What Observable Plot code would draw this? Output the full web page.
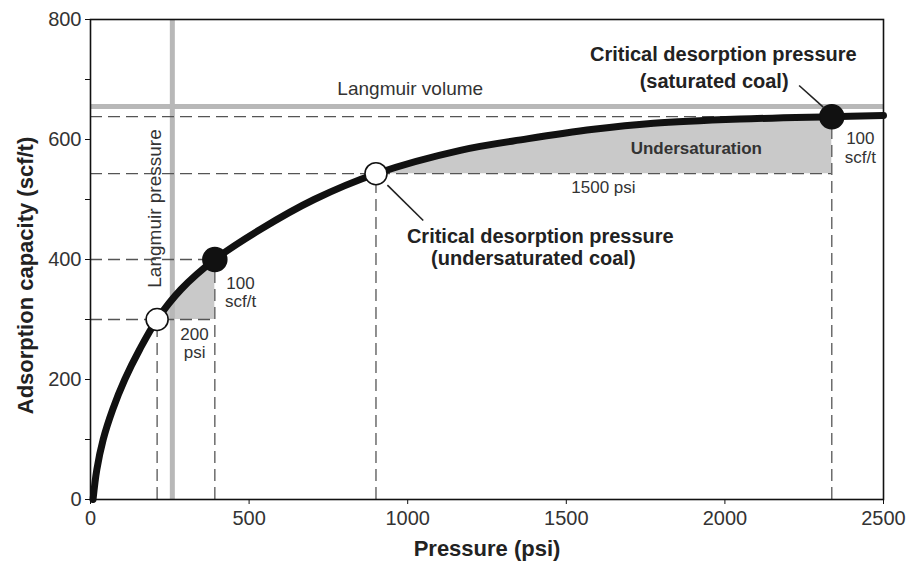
<!DOCTYPE html>
<html><head><meta charset="utf-8">
<script src="https://cdn.jsdelivr.net/npm/d3@7"></script>
<script src="https://cdn.jsdelivr.net/npm/@observablehq/plot@0.6"></script>
<style>
body{margin:0;background:#fff;}
#chart svg{display:block;}
</style>
</head><body><div id="chart"></div>
<script>
// Isotherm
const curvePressure = [8, 20, 40, 70, 108, 155, 210, 285, 392, 535, 705, 900, 1166, 1376, 1586, 1775, 2048, 2337, 2500];
const curveCapacity = [0, 50, 100, 150, 200, 250, 300, 350, 400, 450, 500, 543, 582, 601, 617, 627, 634, 638, 640];

const langmuirVolume = 655;
const langmuirPressure = 258;

const openPressure = [210, 900];
const openCapacity = [300, 543];
const filledPressure = [392, 2337];
const filledCapacity = [400, 638];

// dashed guides
const guideY = [300, 400, 543, 638];
const guideYEnd = [392, 392, 2337, 2337];
const guideX = [210, 392, 900, 2337];
const guideXEnd = [300, 400, 543, 638];

const xTicks = [0, 500, 1000, 1500, 2000, 2500];
const xTickLabels = ["0", "500", "1000", "1500", "2000", "2500"];
const yTicks = [0, 100, 200, 300, 400, 500, 600, 700, 800];
const yTickLabels = ["0", "", "200", "", "400", "", "600", "", "800"];

const curve = curvePressure.map((p, i) => ({p, v: curveCapacity[i]}));
const smallShade = curve.filter(d => d.p >= openPressure[0] && d.p <= filledPressure[0]);
const bigShade = curve.filter(d => d.p >= openPressure[1] && d.p <= filledPressure[1]);
const openPts = openPressure.map((p, i) => ({p, v: openCapacity[i]}));
const filledPts = filledPressure.map((p, i) => ({p, v: filledCapacity[i]}));

const FONT = "Liberation Sans, Arial, Helvetica, sans-serif";
const dash = "12,6";
const curveType = "catmull-rom";

const chart = Plot.plot({
  width: 909,
  height: 563,
  marginLeft: 90,
  marginRight: 26,
  marginTop: 19,
  marginBottom: 64,
  style: {fontFamily: FONT, background: "#fff"},
  x: {domain: [0, 2500]},
  y: {domain: [0, 800]},
  marks: [
    // shaded regions
    Plot.areaY(smallShade, {x: "p", y1: openCapacity[0], y2: "v", fill: "#c9c9c9", curve: curveType}),
    Plot.areaY(bigShade, {x: "p", y1: openCapacity[1], y2: "v", fill: "#c9c9c9", curve: curveType}),
    // Langmuir grey lines
    Plot.ruleY([langmuirVolume], {stroke: "#b8b8b8", strokeWidth: 5}),
    Plot.ruleX([langmuirPressure], {stroke: "#b8b8b8", strokeWidth: 5}),
    // dashed guides
    Plot.ruleY(guideY, {y: d => d, x1: 0, x2: (d, i) => guideYEnd[i], stroke: "#555", strokeWidth: 1.3, strokeDasharray: dash}),
    Plot.ruleX(guideX, {x: d => d, y1: 0, y2: (d, i) => guideXEnd[i], stroke: "#555", strokeWidth: 1.3, strokeDasharray: dash}),
    // frame and axes
    Plot.frame({stroke: "#111", strokeWidth: 1.6}),
    Plot.axisX({ticks: xTicks, tickFormat: d => xTickLabels[xTicks.indexOf(d)], tickSize: 5, tickPadding: 6, fontSize: 20, label: null, color: "#333", stroke: "#111"}),
    Plot.axisY({ticks: yTicks, tickFormat: d => yTickLabels[yTicks.indexOf(d)], tickSize: 5, tickPadding: 4, fontSize: 20, label: null, color: "#333", stroke: "#111"}),
    Plot.text(["Pressure (psi)"], {frameAnchor: "bottom", textAnchor: "middle", lineAnchor: "middle", dy: 49, fontSize: 22, fontWeight: "bold", fill: "#222"}),
    Plot.text(["Adsorption capacity (scf/t)"], {frameAnchor: "left", textAnchor: "middle", lineAnchor: "middle", dx: -65, dy: 16, rotate: -90, fontSize: 22, fontWeight: "bold", fill: "#222"}),
    // isotherm
    Plot.line(curve, {x: "p", y: "v", stroke: "#111", strokeWidth: 7, curve: curveType}),
    // leader lines
    Plot.link([{x1: 2234, y1: 690, x2: 2310, y2: 654}, {x1: 936, y1: 524, x2: 1049, y2: 465}],
      {x1: "x1", y1: "y1", x2: "x2", y2: "y2", stroke: "#222", strokeWidth: 1.6}),
    // points
    Plot.dot(openPts, {x: "p", y: "v", r: 11, fill: "#fff", stroke: "#111", strokeWidth: 1.6}),
    Plot.dot(filledPts, {x: "p", y: "v", r: 12, fill: "#111", stroke: "#111"}),
    // annotations
    Plot.text([{x: 1008, y: 684, t: "Langmuir volume"}], {x: "x", y: "y", text: "t", fontSize: 19, fill: "#333"}),
    Plot.text([{x: 202, y: 485, t: "Langmuir pressure"}], {x: "x", y: "y", text: "t", rotate: -90, fontSize: 19, fill: "#333"}),
    Plot.text([
      {x: 1995, y: 741, t: "Critical desorption pressure"},
      {x: 1966, y: 697, t: "(saturated coal)"},
      {x: 1418, y: 439, t: "Critical desorption pressure"},
      {x: 1396, y: 402, t: "(undersaturated coal)"}
    ], {x: "x", y: "y", text: "t", fontSize: 20, fontWeight: "bold", fill: "#222"}),
    Plot.text([{x: 1910, y: 585, t: "Undersaturation"}], {x: "x", y: "y", text: "t", fontSize: 17, fontWeight: "bold", fill: "#333"}),
    Plot.text([
      {x: 1617, y: 520, t: "1500 psi"},
      {x: 2427, y: 602, t: "100"},
      {x: 2427, y: 570, t: "scf/t"},
      {x: 473, y: 360, t: "100"},
      {x: 473, y: 330, t: "scf/t"},
      {x: 328, y: 275, t: "200"},
      {x: 328, y: 245, t: "psi"}
    ], {x: "x", y: "y", text: "t", fontSize: 17, fill: "#333"})
  ]
});
document.getElementById("chart").appendChild(chart);
</script>
</body></html>
